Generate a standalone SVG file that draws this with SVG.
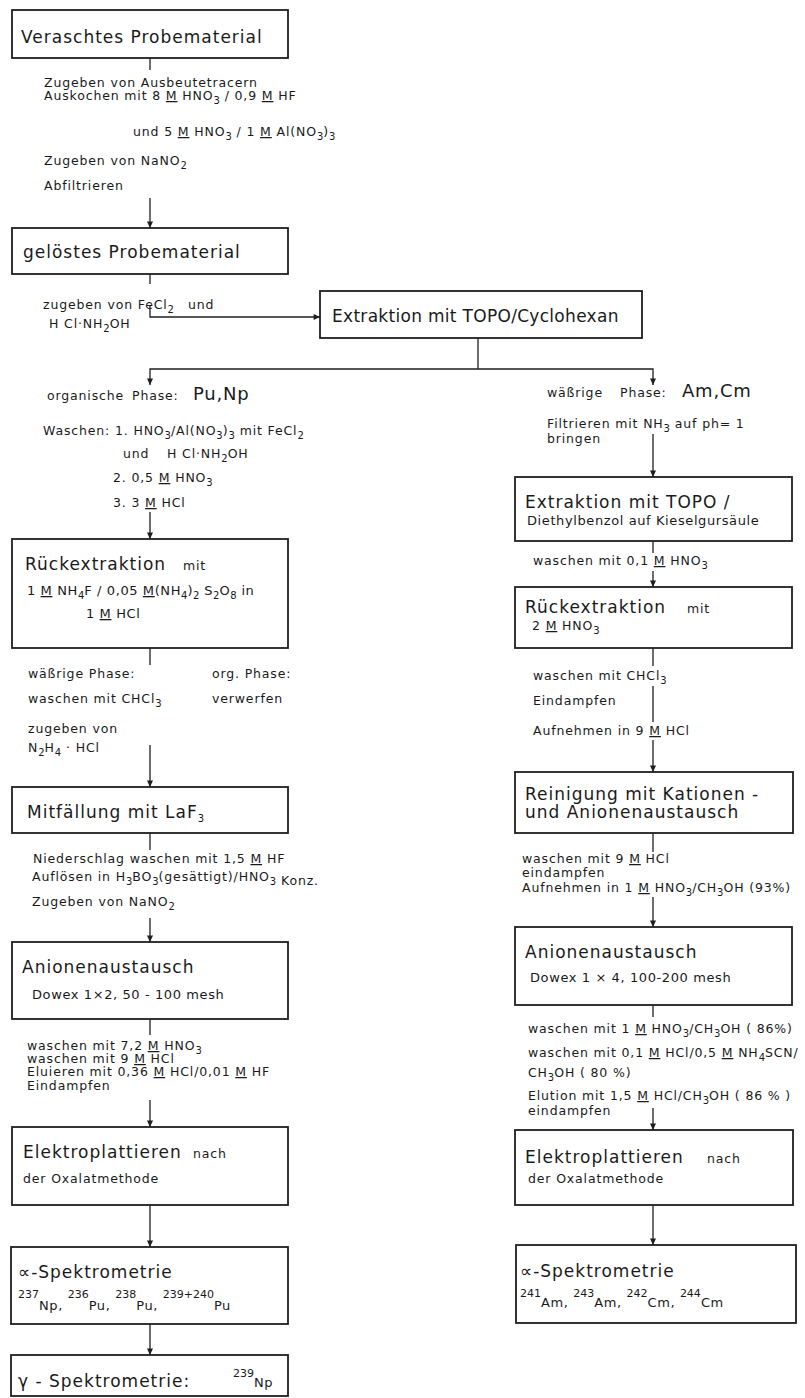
<svg xmlns="http://www.w3.org/2000/svg" width="805" height="1398" viewBox="0 0 805 1398">
<defs>
<style>
text{font-family:"DejaVu Sans","Liberation Sans",sans-serif;fill:#1a1a1a}
.t{font-size:17px;letter-spacing:1px}
.a{font-size:12.5px;letter-spacing:0.85px}
.m{font-size:13px;letter-spacing:0.6px}
.big{font-size:18px;letter-spacing:0.8px}
.b{font-size:10px;letter-spacing:0}
.sp{font-size:11px;letter-spacing:0}
.u{text-decoration:underline}
.box{fill:#fff;stroke:#1f1f1f;stroke-width:1.8}
.ln{fill:none;stroke:#1f1f1f;stroke-width:1.3}
</style>
<marker id="ah" viewBox="0 0 8 10" refX="8" refY="5" markerWidth="8" markerHeight="8" markerUnits="userSpaceOnUse" orient="auto">
<path d="M0,1.2 L8,5 L0,8.8 Z" fill="#1f1f1f"/>
</marker>
</defs>
<rect width="805" height="1398" fill="#fff"/>

<g id="connectors">
<path class="ln" d="M150,58 V70"/>
<path class="ln" d="M150,198 V228" marker-end="url(#ah)"/>
<path class="ln" d="M150,274 V284"/>
<path class="ln" d="M150,306 V317 H320" marker-end="url(#ah)"/>
<path class="ln" d="M478,338 V369"/>
<path class="ln" d="M478,369 H150 V385" marker-end="url(#ah)"/>
<path class="ln" d="M478,369 H653 V385" marker-end="url(#ah)"/>
<path class="ln" d="M150,512 V539" marker-end="url(#ah)"/>
<path class="ln" d="M150,648 V665"/>
<path class="ln" d="M150,745 V787" marker-end="url(#ah)"/>
<path class="ln" d="M150,833 V850"/>
<path class="ln" d="M150,918 V942" marker-end="url(#ah)"/>
<path class="ln" d="M150,1019 V1035"/>
<path class="ln" d="M150,1100 V1127" marker-end="url(#ah)"/>
<path class="ln" d="M150,1205 V1247" marker-end="url(#ah)"/>
<path class="ln" d="M150,1324 V1355" marker-end="url(#ah)"/>
<path class="ln" d="M653,434 V477" marker-end="url(#ah)"/>
<path class="ln" d="M653,541 V553"/>
<path class="ln" d="M653,571 V587" marker-end="url(#ah)"/>
<path class="ln" d="M653,648 V666 M653,686 V722"/>
<path class="ln" d="M653,740 V772" marker-end="url(#ah)"/>
<path class="ln" d="M653,833 V852"/>
<path class="ln" d="M653,897 V927" marker-end="url(#ah)"/>
<path class="ln" d="M653,1005 V1017"/>
<path class="ln" d="M653,1108 V1130" marker-end="url(#ah)"/>
<path class="ln" d="M653,1205 V1245" marker-end="url(#ah)"/>
</g>

<g id="n1">
<rect class="box" x="12" y="10" width="276" height="48"/>
<text class="t" x="21" y="43">Veraschtes Probematerial</text>
</g>
<g id="lbl1">
<text class="a" x="44" y="87">Zugeben von Ausbeutetracern</text>
<text class="a" x="44" y="100">Auskochen mit 8 <tspan class="u">M</tspan> HNO<tspan class="b" dy="4">3</tspan><tspan dy="-4"> / 0,9 </tspan><tspan class="u">M</tspan> HF</text>
<text class="a" x="133" y="136">und 5 <tspan class="u">M</tspan> HNO<tspan class="b" dy="4">3</tspan><tspan dy="-4"> / 1 </tspan><tspan class="u">M</tspan> Al(NO<tspan class="b" dy="4">3</tspan><tspan dy="-4">)</tspan><tspan class="b" dy="4">3</tspan></text>
<text class="a" x="44" y="165">Zugeben von NaNO<tspan class="b" dy="4">2</tspan></text>
<text class="a" x="44" y="190">Abfiltrieren</text>
</g>

<g id="n2">
<rect class="box" x="12" y="228" width="276" height="46"/>
<text class="t" x="23" y="258">gelöstes Probematerial</text>
</g>
<g id="lbl2">
<text class="a" x="43" y="309">zugeben von FeCl<tspan class="b" dy="4">2</tspan><tspan x="188" dy="-4">und</tspan></text>
<text class="a" x="49" y="328">H Cl·NH<tspan class="b" dy="4">2</tspan><tspan dy="-4">OH</tspan></text>
</g>

<g id="n3">
<rect class="box" x="320" y="291" width="322" height="47"/>
<text class="t" x="332" y="322" style="letter-spacing:0.3px">Extraktion mit TOPO/Cyclohexan</text>
</g>

<g id="lbl3">
<text class="a" x="47" y="400">organische<tspan x="132">Phase:</tspan><tspan class="big" x="193">Pu,Np</tspan></text>
<text class="a" x="43" y="435">Waschen: 1. HNO<tspan class="b" dy="4">3</tspan><tspan dy="-4">/Al(NO</tspan><tspan class="b" dy="4">3</tspan><tspan dy="-4">)</tspan><tspan class="b" dy="4">3</tspan><tspan dy="-4"> mit FeCl</tspan><tspan class="b" dy="4">2</tspan></text>
<text class="a" x="123" y="458">und<tspan x="167">H Cl·NH</tspan><tspan class="b" dy="4">2</tspan><tspan dy="-4">OH</tspan></text>
<text class="a" x="113" y="482">2. 0,5 <tspan class="u">M</tspan> HNO<tspan class="b" dy="4">3</tspan></text>
<text class="a" x="113" y="507">3. 3 <tspan class="u">M</tspan> HCl</text>
</g>

<g id="n4">
<rect class="box" x="12" y="539" width="276" height="109"/>
<text class="t" x="25" y="570">Rückextraktion<tspan class="a" x="183">mit</tspan></text>
<text class="m" x="27" y="595">1 <tspan class="u">M</tspan> NH<tspan class="b" dy="4">4</tspan><tspan dy="-4">F / 0,05 </tspan><tspan class="u">M</tspan>(NH<tspan class="b" dy="4">4</tspan><tspan dy="-4">)</tspan><tspan class="b" dy="4">2</tspan><tspan dy="-4"> S</tspan><tspan class="b" dy="4">2</tspan><tspan dy="-4">O</tspan><tspan class="b" dy="4">8</tspan><tspan dy="-4"> in</tspan></text>
<text class="m" x="86" y="618">1 <tspan class="u">M</tspan> HCl</text>
</g>

<g id="lbl4">
<text class="a" x="28" y="678">wäßrige Phase:</text>
<text class="a" x="212" y="678">org. Phase:</text>
<text class="a" x="28" y="703">waschen mit CHCl<tspan class="b" dy="4">3</tspan></text>
<text class="a" x="212" y="703">verwerfen</text>
<text class="a" x="28" y="733">zugeben von</text>
<text class="a" x="28" y="752">N<tspan class="b" dy="4">2</tspan><tspan dy="-4">H</tspan><tspan class="b" dy="4">4</tspan><tspan dy="-4"> · HCl</tspan></text>
</g>

<g id="n5">
<rect class="box" x="12" y="787" width="276" height="46"/>
<text class="t" x="27" y="818">Mitfällung mit LaF<tspan class="b" dy="4">3</tspan></text>
</g>

<g id="lbl5">
<text class="a" x="33" y="863">Niederschlag waschen mit 1,5 <tspan class="u">M</tspan> HF</text>
<text class="a" x="32" y="881">Auflösen in H<tspan class="b" dy="4">3</tspan><tspan dy="-4">BO</tspan><tspan class="b" dy="4">3</tspan><tspan dy="-4">(gesättigt)/HNO</tspan><tspan class="b" dy="4">3</tspan><tspan dy="0"> Konz.</tspan></text>
<text class="a" x="32" y="906">Zugeben von NaNO<tspan class="b" dy="4">2</tspan></text>
</g>

<g id="n6">
<rect class="box" x="12" y="942" width="276" height="77"/>
<text class="t" x="22" y="973">Anionenaustausch</text>
<text class="m" x="32" y="999">Dowex 1×2, 50 - 100 mesh</text>
</g>

<g id="lbl6">
<text class="a" x="27" y="1050">waschen mit 7,2 <tspan class="u">M</tspan> HNO<tspan class="b" dy="4">3</tspan></text>
<text class="a" x="27" y="1063">waschen mit 9 <tspan class="u">M</tspan> HCl</text>
<text class="a" x="27" y="1076">Eluieren mit 0,36 <tspan class="u">M</tspan> HCl/0,01 <tspan class="u">M</tspan> HF</text>
<text class="a" x="27" y="1090">Eindampfen</text>
</g>

<g id="n7">
<rect class="box" x="12" y="1127" width="276" height="78"/>
<text class="t" x="23" y="1158">Elektroplattieren<tspan class="a" x="193">nach</tspan></text>
<text class="a" x="23" y="1183">der Oxalatmethode</text>
</g>

<g id="n8">
<rect class="box" x="11" y="1247" width="277" height="77"/>
<text class="t" x="18" y="1278">∝-Spektrometrie</text>
<text class="m" x="18" y="1310"><tspan class="sp" dy="-12">237</tspan><tspan dy="12">Np, </tspan><tspan class="sp" dy="-12">236</tspan><tspan dy="12">Pu, </tspan><tspan class="sp" dy="-12">238</tspan><tspan dy="12">Pu, </tspan><tspan class="sp" dy="-12">239+240</tspan><tspan dy="12">Pu</tspan></text>
</g>

<g id="n9">
<rect class="box" x="11" y="1355" width="277" height="41"/>
<text class="t" x="18" y="1387">γ - Spektrometrie:<tspan class="sp" x="233" dy="-10">239</tspan><tspan class="m" dy="10">Np</tspan></text>
</g>

<g id="lbl7">
<text class="a" x="547" y="397">wäßrige<tspan x="620">Phase:</tspan><tspan class="big" x="682">Am,Cm</tspan></text>
<text class="a" x="547" y="428">Filtrieren mit NH<tspan class="b" dy="4">3</tspan><tspan dy="-4"> auf ph= 1</tspan></text>
<text class="a" x="547" y="443">bringen</text>
</g>

<g id="r1">
<rect class="box" x="515" y="477" width="277" height="64"/>
<text class="t" x="525" y="508">Extraktion mit TOPO /</text>
<text class="m" x="527" y="525">Diethylbenzol auf Kieselgursäule</text>
</g>
<g id="lbl8">
<text class="a" x="533" y="565">waschen mit 0,1 <tspan class="u">M</tspan> HNO<tspan class="b" dy="4">3</tspan></text>
</g>

<g id="r2">
<rect class="box" x="515" y="587" width="277" height="61"/>
<text class="t" x="525" y="613">Rückextraktion<tspan class="a" x="687">mit</tspan></text>
<text class="a" x="532" y="630">2 <tspan class="u">M</tspan> HNO<tspan class="b" dy="4">3</tspan></text>
</g>
<g id="lbl9">
<text class="a" x="533" y="680">waschen mit CHCl<tspan class="b" dy="4">3</tspan></text>
<text class="a" x="533" y="705">Eindampfen</text>
<text class="a" x="533" y="735">Aufnehmen in 9 <tspan class="u">M</tspan> HCl</text>
</g>

<g id="r3">
<rect class="box" x="515" y="772" width="278" height="61"/>
<text class="t" x="525" y="800">Reinigung mit Kationen -</text>
<text class="t" x="525" y="818">und Anionenaustausch</text>
</g>
<g id="lbl10">
<text class="a" x="522" y="863">waschen mit 9 <tspan class="u">M</tspan> HCl</text>
<text class="a" x="522" y="877">eindampfen</text>
<text class="a" x="522" y="892">Aufnehmen in 1 <tspan class="u">M</tspan> HNO<tspan class="b" dy="4">3</tspan><tspan dy="-4">/CH</tspan><tspan class="b" dy="4">3</tspan><tspan dy="-4">OH (93%)</tspan></text>
</g>

<g id="r4">
<rect class="box" x="515" y="927" width="277" height="78"/>
<text class="t" x="525" y="958">Anionenaustausch</text>
<text class="m" x="530" y="982">Dowex 1 × 4, 100-200 mesh</text>
</g>
<g id="lbl11">
<text class="a" x="528" y="1033">waschen mit 1 <tspan class="u">M</tspan> HNO<tspan class="b" dy="4">3</tspan><tspan dy="-4">/CH</tspan><tspan class="b" dy="4">3</tspan><tspan dy="-4">OH ( 86%)</tspan></text>
<text class="a" x="528" y="1057">waschen mit 0,1 <tspan class="u">M</tspan> HCl/0,5 <tspan class="u">M</tspan> NH<tspan class="b" dy="4">4</tspan><tspan dy="-4">SCN/</tspan></text>
<text class="a" x="528" y="1077">CH<tspan class="b" dy="4">3</tspan><tspan dy="-4">OH ( 80 %)</tspan></text>
<text class="a" x="528" y="1100">Elution mit 1,5 <tspan class="u">M</tspan> HCl/CH<tspan class="b" dy="4">3</tspan><tspan dy="-4">OH ( 86 % )</tspan></text>
<text class="a" x="528" y="1115">eindampfen</text>
</g>

<g id="r5">
<rect class="box" x="515" y="1130" width="278" height="75"/>
<text class="t" x="525" y="1163">Elektroplattieren<tspan class="a" x="707">nach</tspan></text>
<text class="a" x="528" y="1183">der Oxalatmethode</text>
</g>

<g id="r6">
<rect class="box" x="516" y="1245" width="280" height="78"/>
<text class="t" x="520" y="1277">∝-Spektrometrie</text>
<text class="m" x="520" y="1307"><tspan class="sp" dy="-10">241</tspan><tspan dy="10">Am, </tspan><tspan class="sp" dy="-10">243</tspan><tspan dy="10">Am, </tspan><tspan class="sp" dy="-10">242</tspan><tspan dy="10">Cm, </tspan><tspan class="sp" dy="-10">244</tspan><tspan dy="10">Cm</tspan></text>
</g>
</svg>
